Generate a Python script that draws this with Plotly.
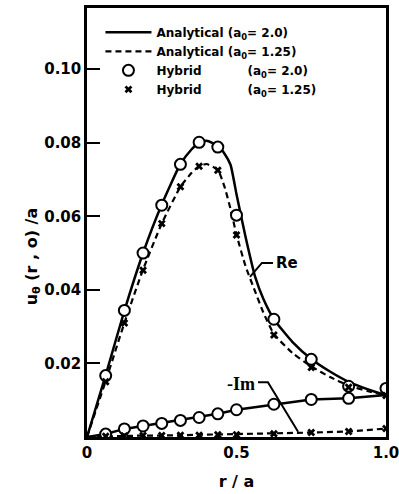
import plotly.graph_objects as go

# ---- data ----
r_analytic = [0, 0.0625, 0.125, 0.1875, 0.25, 0.3125, 0.35, 0.375, 0.40, 0.4375, 0.46, 0.48,
              0.5, 0.53, 0.5625, 0.59, 0.625, 0.6875, 0.75, 0.8125, 0.875, 0.9375, 1.0]
re_analytic_a20 = [0, 0.0168, 0.0343, 0.0500, 0.0632, 0.0742, 0.0782, 0.0801, 0.0805, 0.0792, 0.0770, 0.0740,
                   0.0660, 0.0545, 0.0435, 0.0375, 0.0320, 0.0258, 0.0212, 0.0178, 0.0150, 0.0130, 0.0113]
re_analytic_a125 = [0, 0.0152, 0.0310, 0.0455, 0.0580, 0.0680, 0.0718, 0.0736, 0.0742, 0.0726, 0.0680, 0.0620,
                    0.0550, 0.0465, 0.0395, 0.0338, 0.0280, 0.0228, 0.0192, 0.0163, 0.0140, 0.0125, 0.0113]

r_hybrid = [0.0625, 0.125, 0.1875, 0.25, 0.3125, 0.375, 0.4375, 0.5, 0.625, 0.75, 0.875, 1.0]
re_hybrid_a20 = [0.0167, 0.0344, 0.0500, 0.0630, 0.0741, 0.0801, 0.0788, 0.0603, 0.0320, 0.0211, 0.0138, 0.0132]
re_hybrid_a125 = [0.0150, 0.0310, 0.0453, 0.0580, 0.0680, 0.0736, 0.0725, 0.0549, 0.0277, 0.0189, 0.0135, 0.0113]

r_im = [0, 0.0625, 0.125, 0.1875, 0.25, 0.3125, 0.375, 0.4375, 0.5, 0.625, 0.75, 0.875, 1.0]
im_analytic_a20 = [0, 0.0008, 0.0022, 0.0030, 0.0037, 0.0045, 0.0053, 0.0063, 0.0074, 0.0089, 0.0102, 0.0105, 0.0114]
im_analytic_a125 = [0, 0.0002, 0.0003, 0.0004, 0.0004, 0.0005, 0.0005, 0.0006, 0.0006, 0.0009, 0.0012, 0.0015, 0.0023]

r_im_hybrid_a20 = [0.0625, 0.125, 0.1875, 0.25, 0.3125, 0.375, 0.4375, 0.5, 0.625, 0.75, 0.875]
im_hybrid_a20 = [0.0008, 0.0022, 0.0030, 0.0037, 0.0045, 0.0053, 0.0063, 0.0074, 0.0089, 0.0102, 0.0105]
r_im_hybrid_a125 = [0.0625, 0.125, 0.1875, 0.25, 0.3125, 0.375, 0.4375, 0.5, 0.625, 0.75, 0.875, 1.0]
im_hybrid_a125 = [0.0002, 0.0003, 0.0004, 0.0004, 0.0005, 0.0005, 0.0006, 0.0006, 0.0009, 0.0012, 0.0015, 0.0023]

y_ticks = [0.02, 0.04, 0.06, 0.08, 0.10]
y_tick_labels = ["0.02", "0.04", "0.06", "0.08", "0.10"]
x_ticks = [0, 0.5, 1.0]
x_tick_labels = ["0", "0.5", "1.0"]

NB = "\u00a0"
names = [
    "Analytical (a<sub>0</sub>= 2.0)",
    "Analytical (a<sub>0</sub>= 1.25)",
    "Hybrid" + NB * 11 + "(a<sub>0</sub>= 2.0)",
    "Hybrid" + NB * 11 + "(a<sub>0</sub>= 1.25)",
]

FONT = "DejaVu Sans"
solid = dict(color="black", width=2.5)
dashed = dict(color="black", width=2.2, dash="6px,4px")
circ = dict(symbol="circle", size=11, color="white", line=dict(color="black", width=2))
cross = dict(symbol="x", size=7, color="black", line=dict(width=0))

fig = go.Figure()
fig.add_trace(go.Scatter(x=r_analytic, y=re_analytic_a20, mode="lines", line=dict(shape="spline", smoothing=0.5, **solid), name=names[0]))
fig.add_trace(go.Scatter(x=r_analytic, y=re_analytic_a125, mode="lines", line=dict(shape="spline", smoothing=0.5, **dashed), name=names[1]))
fig.add_trace(go.Scatter(x=r_im, y=im_analytic_a20, mode="lines", line=solid, showlegend=False))
fig.add_trace(go.Scatter(x=r_im, y=im_analytic_a125, mode="lines", line=dashed, showlegend=False))
fig.add_trace(go.Scatter(x=r_hybrid, y=re_hybrid_a20, mode="markers", marker=circ, name=names[2]))
fig.add_trace(go.Scatter(x=r_hybrid, y=re_hybrid_a125, mode="markers", marker=cross, name=names[3]))
fig.add_trace(go.Scatter(x=r_im_hybrid_a20, y=im_hybrid_a20, mode="markers", marker=circ, showlegend=False))
fig.add_trace(go.Scatter(x=r_im_hybrid_a125, y=im_hybrid_a125, mode="markers", marker=cross, showlegend=False))

# leader lines for labels
fig.add_shape(type="path", path="M 0.545 0.0435 L 0.585 0.0473 L 0.622 0.0473",
              xref="x", yref="y", line=dict(color="black", width=2))
fig.add_shape(type="path", path="M 0.572 0.0149 L 0.605 0.0149 L 0.706 0.0014",
              xref="x", yref="y", line=dict(color="black", width=2))
fig.add_annotation(x=0.627, y=0.0473, text="Re", showarrow=False, xanchor="left",
                   font=dict(family=FONT, size=15, color="black", weight="bold"))
fig.add_annotation(x=0.568, y=0.0143, text="-Im", showarrow=False, xanchor="right",
                   font=dict(family="Liberation Serif", size=18, color="black", weight="bold"))
# y-axis title (placed as in the reference, below centre)
fig.add_annotation(x=-0.224, y=0.42, xref="paper", yref="paper", textangle=-90,
                   text="u<sub>θ</sub> (r , o) /a", showarrow=False,
                   font=dict(family=FONT, size=16, color="black", weight="bold"))

fig.update_layout(
    width=399, height=494,
    margin=dict(l=87, r=13, t=8, b=57, autoexpand=False),
    paper_bgcolor="white", plot_bgcolor="white",
    font=dict(family=FONT, color="black", size=13),
    showlegend=True,
    legend=dict(x=0.045, y=0.977, xanchor="left", yanchor="top", bgcolor="rgba(0,0,0,0)",
                itemwidth=46, tracegroupgap=0,
                font=dict(family=FONT, size=12, color="black", weight="bold")),
    xaxis=dict(range=[0, 1], tickvals=x_ticks, ticktext=x_tick_labels, ticks="",
               ticklabeloverflow="allow", automargin=False,
               showline=True, linecolor="black", linewidth=2.5, mirror=True,
               showgrid=False, zeroline=False,
               tickfont=dict(family=FONT, size=15, color="black", weight="bold"),
               title=dict(text="r / a", font=dict(family=FONT, size=16, color="black", weight="bold"), standoff=16)),
    yaxis=dict(range=[0, 0.1166], tickvals=y_ticks, ticktext=y_tick_labels, ticks="inside",
               automargin=False,
               ticklen=13, tickwidth=2, tickcolor="black",
               showline=True, linecolor="black", linewidth=2.5, mirror=True,
               showgrid=False, zeroline=False,
               tickfont=dict(family=FONT, size=15, color="black", weight="bold")),
)

fig.write_html("out.html")
